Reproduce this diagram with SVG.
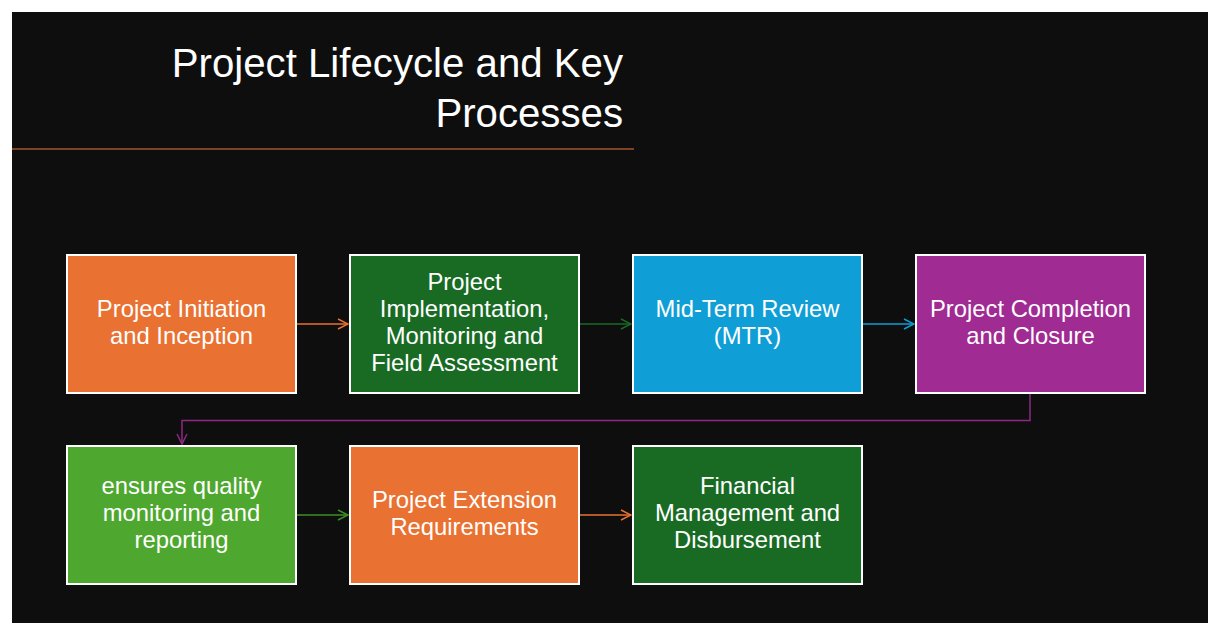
<svg xmlns="http://www.w3.org/2000/svg" width="1208" height="623" viewBox="0 0 1208 623">
<defs>
<style>
.box{stroke:#ffffff;stroke-width:2}
.lbl{font-family:"Liberation Sans",Arial,sans-serif;font-size:23.8px;fill:#ffffff;text-anchor:middle}
.title{font-family:"Liberation Sans",Arial,sans-serif;font-size:40.2px;fill:#ffffff;text-anchor:end}
.conn{fill:none;stroke-width:1.5}
</style>
<marker id="ahO" viewBox="0 0 12 12" refX="11" refY="6" markerWidth="12" markerHeight="12" markerUnits="userSpaceOnUse" orient="auto"><path d="M1,1 L11,6 L1,11" fill="none" stroke="#E97132" stroke-width="1.5"/></marker>
<marker id="ahG" viewBox="0 0 12 12" refX="11" refY="6" markerWidth="12" markerHeight="12" markerUnits="userSpaceOnUse" orient="auto"><path d="M1,1 L11,6 L1,11" fill="none" stroke="#196B24" stroke-width="1.5"/></marker>
<marker id="ahB" viewBox="0 0 12 12" refX="11" refY="6" markerWidth="12" markerHeight="12" markerUnits="userSpaceOnUse" orient="auto"><path d="M1,1 L11,6 L1,11" fill="none" stroke="#0F9ED5" stroke-width="1.5"/></marker>
<marker id="ahP" viewBox="0 0 12 12" refX="11" refY="6" markerWidth="12" markerHeight="12" markerUnits="userSpaceOnUse" orient="auto"><path d="M1,1 L11,6 L1,11" fill="none" stroke="#8E2A84" stroke-width="1.5"/></marker>
<marker id="ahL" viewBox="0 0 12 12" refX="11" refY="6" markerWidth="12" markerHeight="12" markerUnits="userSpaceOnUse" orient="auto"><path d="M1,1 L11,6 L1,11" fill="none" stroke="#3F8F27" stroke-width="1.5"/></marker>
</defs>
<rect x="0" y="0" width="1208" height="623" fill="#ffffff"/>
<rect x="12" y="12" width="1196" height="611" fill="#0E0E0E"/>
<g id="title">
<text class="title" x="623" y="77">Project Lifecycle and Key</text>
<text class="title" x="623" y="127">Processes</text>
<line x1="12" y1="149" x2="634" y2="149" stroke="#A0552B" stroke-width="1.4"/>
</g>
<g id="connectors">
<path class="conn" d="M297,324 H348" stroke="#E97132" marker-end="url(#ahO)"/>
<path class="conn" d="M580,324 H631" stroke="#196B24" marker-end="url(#ahG)"/>
<path class="conn" d="M863,324 H914" stroke="#0F9ED5" marker-end="url(#ahB)"/>
<path class="conn" d="M1030,394 V420.5 H182 V444" stroke="#8E2A84" marker-end="url(#ahP)"/>
<path class="conn" d="M297,515 H348" stroke="#3F8F27" marker-end="url(#ahL)"/>
<path class="conn" d="M580,515 H631" stroke="#E97132" marker-end="url(#ahO)"/>
</g>
<g id="n1">
<rect class="box" x="67" y="255" width="229" height="138" fill="#E97132"/>
<text class="lbl" x="181.5" y="317">Project Initiation</text>
<text class="lbl" x="181.5" y="344">and Inception</text>
</g>
<g id="n2">
<rect class="box" x="350" y="255" width="229" height="138" fill="#196B24"/>
<text class="lbl" x="464.5" y="290">Project</text>
<text class="lbl" x="464.5" y="317">Implementation,</text>
<text class="lbl" x="464.5" y="344">Monitoring and</text>
<text class="lbl" x="464.5" y="371">Field Assessment</text>
</g>
<g id="n3">
<rect class="box" x="633" y="255" width="229" height="138" fill="#0F9ED5"/>
<text class="lbl" x="747.5" y="317">Mid-Term Review</text>
<text class="lbl" x="747.5" y="344">(MTR)</text>
</g>
<g id="n4">
<rect class="box" x="916" y="255" width="229" height="138" fill="#A02B93"/>
<text class="lbl" x="1030.5" y="317">Project Completion</text>
<text class="lbl" x="1030.5" y="344">and Closure</text>
</g>
<g id="n5">
<rect class="box" x="67" y="446" width="229" height="138" fill="#4EA72E"/>
<text class="lbl" x="181.5" y="494">ensures quality</text>
<text class="lbl" x="181.5" y="521">monitoring and</text>
<text class="lbl" x="181.5" y="548">reporting</text>
</g>
<g id="n6">
<rect class="box" x="350" y="446" width="229" height="138" fill="#E97132"/>
<text class="lbl" x="464.5" y="508">Project Extension</text>
<text class="lbl" x="464.5" y="535">Requirements</text>
</g>
<g id="n7">
<rect class="box" x="633" y="446" width="229" height="138" fill="#196B24"/>
<text class="lbl" x="747.5" y="494">Financial</text>
<text class="lbl" x="747.5" y="521">Management and</text>
<text class="lbl" x="747.5" y="548">Disbursement</text>
</g>
</svg>
